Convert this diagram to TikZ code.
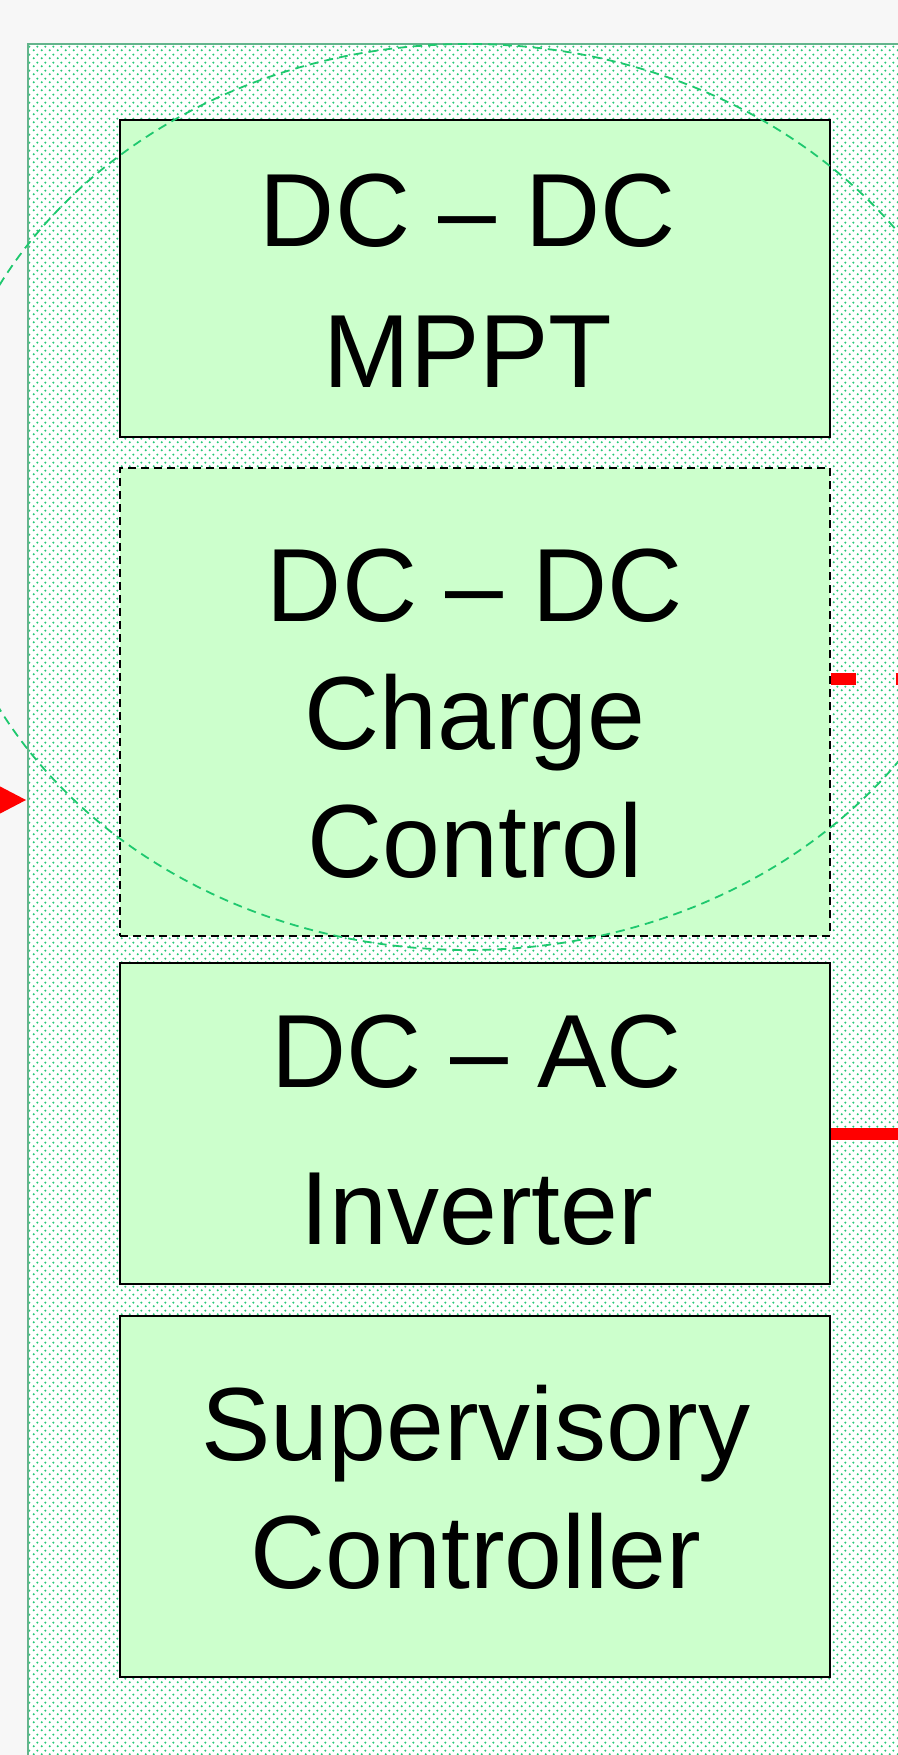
\documentclass[tikz,border=0pt]{standalone}
\usepackage{fontspec}
\setmainfont{Liberation Sans}
\usepackage{xcolor}
\usepackage{tikz}
\usetikzlibrary{arrows.meta, fit, patterns.meta}
\definecolor{paper}{RGB}{247,247,247}
\definecolor{boxgreen}{RGB}{204,255,204}
\definecolor{dotgreen}{RGB}{40,200,120}
\definecolor{rimgreen}{RGB}{100,180,140}
\definecolor{zonegreen}{RGB}{30,200,110}
\tikzdeclarepattern{name=greendots, type=uncolored,
  bottom left={(0pt,0pt)}, top right={(4pt,4pt)}, tile size={(4pt,4pt)},
  code={\fill (1pt,1pt) circle [radius=0.65pt]; \fill (3pt,3pt) circle [radius=0.65pt];}}
\tikzstyle{housing} = [rectangle, inner sep=0pt, draw=rimgreen, line width=1.2pt, preaction={fill=white}, pattern=greendots, pattern color=dotgreen]
\tikzstyle{block} = [rectangle, inner sep=0pt, draw=black, line width=0.7pt, fill=boxgreen]
\tikzstyle{blocktext} = [align=center, inner sep=0pt, font=\fontsize{52}{64}\selectfont]
\tikzstyle{zone} = [draw=zonegreen, line width=0.9pt, dash pattern=on 4.5pt off 3pt]
\tikzstyle{power} = [draw=red, line width=6pt]
\tikzstyle{arrow} = [power, -{Triangle[length=16pt, width=15pt]}]

\begin{document}
\begin{tikzpicture}[x=0.5pt, y=-0.5pt]
        \path [use as bounding box, fill=paper] (0,0) rectangle (898,1755);
        \clip (0,0) rectangle (898,1755);

        \node (unit) [housing, fit={(28,44) (980,1830)}] {};

        \node (mppt) [block, fit={(120,120) (830,437)}] {};
        \node (charge) [block, dash pattern=on 4pt off 2.5pt, fit={(120,468) (830,936)}] {};
        \node (invert) [block, fit={(120,963) (830,1284)}] {};
        \node (super) [block, fit={(120,1316) (830,1677)}] {};

        % zona punteada
        \draw [zone] (468,497) ellipse [x radius=530, y radius=453];

        \node (mpptlbl) [blocktext] at (468,281) {DC – DC\\[6.5pt]MPPT};
        \node (chargelbl) [blocktext] at (475,714) {DC – DC\\Charge\\Control};
        \node (invertlbl) [blocktext] at (477,1130) {DC – AC\\[14.5pt]Inverter};
        \node (superlbl) [blocktext] at (476,1487) {Supervisory\\Controller};

        % lineas de potencia
        \coordinate (pvin) at (-100,800);
        \coordinate (battout) at (1000,679);
        \coordinate (acout) at (1000,1134);
        \draw [arrow] (pvin) -- (pvin -| unit.west);
        \draw [power, dash pattern=on 12.5pt off 20pt] (charge.east |- battout) -- (battout);
        \draw [power] (invert.east |- acout) -- (acout);
    \end{tikzpicture}
\end{document}
